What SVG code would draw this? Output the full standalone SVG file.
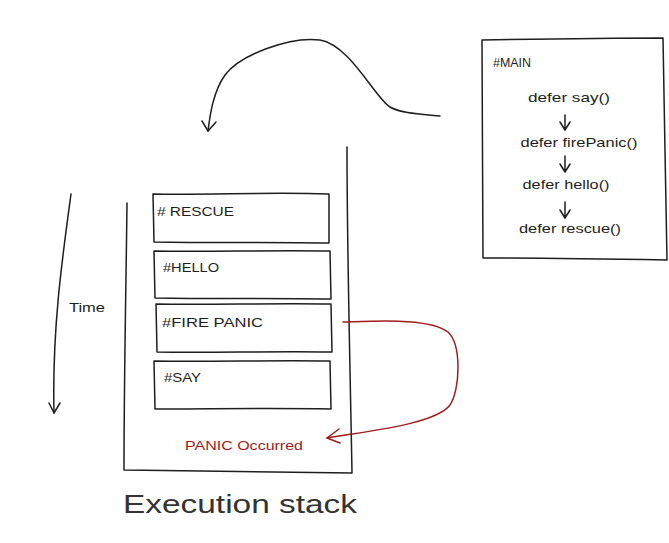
<svg xmlns="http://www.w3.org/2000/svg" width="669" height="543" viewBox="0 0 669 543">
<style>
.ln{fill:none;stroke:#1e1e1e;stroke-width:1.5;stroke-linecap:round;stroke-linejoin:round}
.red{fill:none;stroke:#9e1c1c;stroke-width:1.5;stroke-linecap:round;stroke-linejoin:round}
.t{font-family:"Liberation Sans",Arial,sans-serif;font-size:13px;fill:#1e1e1e}
.tr{font-family:"Liberation Sans",Arial,sans-serif;font-size:13px;fill:#9e1c1c}
.big{font-family:"Liberation Sans",Arial,sans-serif;font-size:25px;fill:#333}
</style>
<rect width="669" height="543" fill="#fff"/>
<g id="main-box">
<path class="ln" d="M482,40 C540,39 610,38 663,38 C664,110 666,190 667,260 C610,259 540,258 483,258 C483,190 482,110 482,40 Z"/>
<text class="t" x="493" y="67" textLength="38" lengthAdjust="spacingAndGlyphs">#MAIN</text>
<text class="t" x="569" y="102" text-anchor="middle" textLength="82" lengthAdjust="spacingAndGlyphs">defer say()</text>
<text class="t" x="579" y="147" text-anchor="middle" textLength="117" lengthAdjust="spacingAndGlyphs">defer firePanic()</text>
<text class="t" x="566" y="189" text-anchor="middle" textLength="87" lengthAdjust="spacingAndGlyphs">defer hello()</text>
<text class="t" x="570" y="233" text-anchor="middle" textLength="102" lengthAdjust="spacingAndGlyphs">defer rescue()</text>
</g>
<g id="stack">
<path class="ln" d="M127,203 C126,290 124,380 124,470 C200,471 280,472 352,473 C350,360 347,250 347,147"/>
</g>
<g id="frame-rescue">
<path class="ln" d="M153,194 C210,195 270,192 329,194 L329,243 C270,242 210,243 154,242 Z"/>
<text class="t" x="157" y="216" textLength="77" lengthAdjust="spacingAndGlyphs"># RESCUE</text>
</g>
<g id="frame-hello">
<path class="ln" d="M154,251 C210,252 270,250 330,251 L331,299 C270,298 210,299 155,298 Z"/>
<text class="t" x="163" y="272" textLength="56" lengthAdjust="spacingAndGlyphs">#HELLO</text>
</g>
<g id="frame-firepanic">
<path class="ln" d="M156,304 C210,305 270,303 331,304 L332,352 C270,351 210,353 157,352 Z"/>
<text class="t" x="162" y="327" textLength="101" lengthAdjust="spacingAndGlyphs">#FIRE PANIC</text>
</g>
<g id="frame-say">
<path class="ln" d="M154,361 C210,362 270,360 330,361 L331,409 C270,408 210,409 155,409 Z"/>
<text class="t" x="164" y="382" textLength="37" lengthAdjust="spacingAndGlyphs">#SAY</text>
</g>
<g id="panic-label">
<text class="tr" x="185" y="450" textLength="118" lengthAdjust="spacingAndGlyphs">PANIC Occurred</text>
</g>
<g id="time-label">
<text class="t" x="69" y="312" textLength="36" lengthAdjust="spacingAndGlyphs">Time</text>
</g>
<g id="title">
<text class="big" x="123" y="513" textLength="234" lengthAdjust="spacingAndGlyphs">Execution stack</text>
</g>
<g id="connectors">
<path class="ln" d="M440,116 C420,114 400,113 390,107 C375,98 350,45 320,40 C290,36 240,55 225,75 C213,92 210,115 208,131"/>
<path class="ln" d="M202,121 L208,131 L216,122"/>
<path class="red" d="M343,322 C380,321 430,318 448,332 C462,345 460,390 450,405 C435,425 360,432 327,438"/>
<path class="red" d="M339,429 L327,438 L340,443"/>
<path class="ln" d="M71,194 C62,260 52,330 54,413"/>
<path class="ln" d="M49,403 L54,413 L60,403"/>
<path class="ln" d="M565,115 L565,130 M560,122 L565,130 L570,122"/>
<path class="ln" d="M565,156 L565,172 M560,164 L565,172 L570,164"/>
<path class="ln" d="M565,202 L565,218 M560,210 L565,218 L570,210"/>
</g>
</svg>
